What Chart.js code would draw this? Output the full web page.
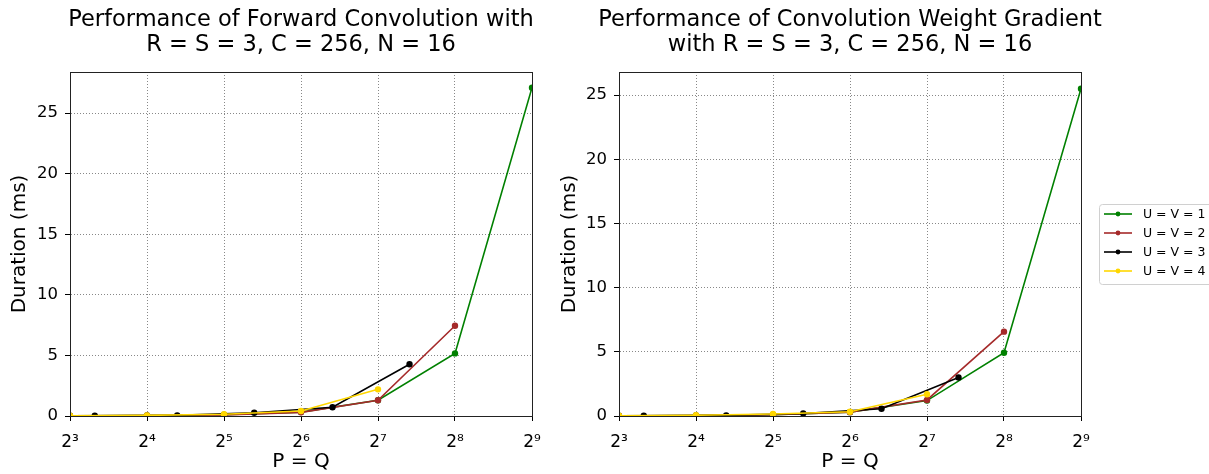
<!DOCTYPE html>
<html>
<head>
<meta charset="utf-8">
<script src="https://cdn.jsdelivr.net/npm/chart.js@4.4.1/dist/chart.umd.min.js"></script>
<style>
  html, body { margin: 0; padding: 0; background: #fff; }
  #wrap { position: relative; width: 1209px; height: 474px; overflow: hidden; }
  #left { position: absolute; left: 0; top: 0; }
  #right { position: absolute; left: 550px; top: 0; }
</style>
</head>
<body>
<div id="wrap">
  <canvas id="left" width="550" height="474"></canvas>
  <canvas id="right" width="659" height="474"></canvas>
</div>
<script>
// x values (P = Q)
const pPow2 = [8, 16, 32, 64, 128, 256, 512];
const pPow2Short = [8, 16, 32, 64, 128, 256];
const pStride3 = [10, 21, 42, 85, 170];
const pStride4 = [8, 16, 32, 64, 128];
const xTicks = [8, 16, 32, 64, 128, 256, 512];
const yTicks = [0, 5, 10, 15, 20, 25];

// forward convolution durations (ms)
const fwdU1 = [0.02, 0.04, 0.1, 0.32, 1.3, 5.17, 27.1];
const fwdU2 = [0.02, 0.04, 0.08, 0.3, 1.3, 7.45];
const fwdU3 = [0.02, 0.05, 0.27, 0.72, 4.27];
const fwdU4 = [0.02, 0.05, 0.15, 0.41, 2.2];

// weight gradient durations (ms)
const wgU1 = [0.02, 0.04, 0.1, 0.3, 1.2, 4.93, 25.5];
const wgU2 = [0.02, 0.04, 0.1, 0.3, 1.25, 6.57];
const wgU3 = [0.02, 0.05, 0.2, 0.57, 3.0];
const wgU4 = [0.02, 0.06, 0.15, 0.33, 1.69];

const seriesLabels = ["U = V = 1", "U = V = 2", "U = V = 3", "U = V = 4"];
const seriesColors = ["#008000", "#a52a2a", "#000000", "#ffd700"];

const FONT = "'DejaVu Sans', sans-serif";
const sup = "⁰¹²³⁴⁵⁶⁷⁸⁹";

function pts(xs, ys) {
  return xs.map((x, i) => ({ x: x, y: ys[i] }));
}

function makeDatasets(u1, u2, u3, u4) {
  let sets = [
    pts(pPow2, u1),
    pts(pPow2Short, u2),
    pts(pStride3, u3),
    pts(pStride4, u4)
  ];
  return sets.map((d, i) => ({
    label: seriesLabels[i],
    data: d,
    borderColor: seriesColors[i],
    backgroundColor: seriesColors[i],
    borderWidth: 1.6,
    pointRadius: 2.4,
    pointHoverRadius: 2.4,
    tension: 0,
    order: 4 - i // first series drawn underneath
  }));
}

// box around plot area + title centred over the plot (like matplotlib)
const framePlugin = {
  id: "frame",
  afterDraw(chart, args, opts) {
    const a = chart.chartArea;
    const ctx = chart.ctx;
    ctx.save();
    ctx.strokeStyle = "#222";
    ctx.lineWidth = 1;
    ctx.strokeRect(a.left + 0.5, a.top + 0.5, a.right - a.left, a.bottom - a.top);
    ctx.fillStyle = "#000";
    ctx.font = "22.5px " + FONT;
    ctx.textAlign = "center";
    ctx.textBaseline = "middle";
    const cx = (a.left + a.right) / 2;
    (opts.lines || []).forEach((t, i) => ctx.fillText(t, cx, 20 + i * 25));
    ctx.restore();
  }
};

// matplotlib-like legend drawn at right of second chart
const legendPlugin = {
  id: "sideLegend",
  afterDraw(chart, args, opts) {
    if (!opts.show) return;
    const ctx = chart.ctx;
    const x0 = opts.x, y0 = opts.y;
    ctx.save();
    ctx.strokeStyle = "#d0d0d0";
    ctx.lineWidth = 1;
    ctx.fillStyle = "rgba(255,255,255,0.8)";
    ctx.beginPath();
    ctx.roundRect(x0 + 0.5, y0 + 0.5, 120, 80, 3);
    ctx.fill();
    ctx.stroke();
    ctx.font = "12.5px " + FONT;
    ctx.textBaseline = "middle";
    seriesLabels.forEach((lab, i) => {
      let y = y0 + 10 + i * 19;
      ctx.strokeStyle = seriesColors[i];
      ctx.lineWidth = 1.6;
      ctx.beginPath();
      ctx.moveTo(x0 + 5, y);
      ctx.lineTo(x0 + 33, y);
      ctx.stroke();
      ctx.fillStyle = seriesColors[i];
      ctx.beginPath();
      ctx.arc(x0 + 19, y, 2.4, 0, Math.PI * 2);
      ctx.fill();
      ctx.fillStyle = "#000";
      ctx.fillText(lab, x0 + 44, y + 1);
    });
    ctx.restore();
  }
};

function makeChart(id, titleLines, datasets, yMax, yWidth, padRight, legend) {
  return new Chart(document.getElementById(id), {
    type: "line",
    data: { datasets: datasets },
    plugins: [framePlugin, legendPlugin],
    options: {
      responsive: false,
      animation: false,
      layout: { padding: { left: 0, right: padRight, top: 72, bottom: 0 } },
      plugins: {
        legend: { display: false },
        tooltip: { enabled: false },
        title: { display: false },
        frame: { lines: titleLines },
        sideLegend: legend
      },
      scales: {
        x: {
          type: "logarithmic",
          min: 8,
          max: 512,
          afterBuildTicks: (scale) => {
            scale.ticks = xTicks.map(v => ({ value: v }));
          },
          afterFit: (scale) => {
            scale.height = 58;
            scale.paddingLeft = 8;
            scale.paddingRight = 8;
          },
          ticks: {
            color: "#000",
            font: { family: FONT, size: 17 },
            padding: 11,
            maxRotation: 0,
            autoSkip: false,
            callback: (v) => "2" + String(Math.round(Math.log2(v))).split("").map(c => sup[+c]).join("")
          },
          grid: {
            color: "#888",
            tickColor: "#000",
            tickLength: 5,
            tickBorderDash: []
          },
          border: { display: true, color: "#222", dash: [1, 2] },
          title: {
            display: true,
            text: "P = Q",
            color: "#000",
            font: { family: FONT, size: 20 },
            padding: { top: 0, bottom: 0 }
          }
        },
        y: {
          type: "linear",
          min: 0,
          max: yMax,
          afterBuildTicks: (scale) => {
            scale.ticks = yTicks.map(v => ({ value: v }));
          },
          afterFit: (scale) => { scale.width = yWidth; },
          ticks: {
            color: "#000",
            font: { family: FONT, size: 16.5 },
            padding: 7
          },
          grid: {
            color: "#888",
            tickColor: "#000",
            tickLength: 5,
            tickBorderDash: []
          },
          border: { display: true, color: "#222", dash: [1, 2] },
          title: {
            display: true,
            text: "Duration (ms)",
            color: "#000",
            font: { family: FONT, size: 20 },
            padding: { top: 8, bottom: 0 }
          }
        }
      }
    }
  });
}

makeChart("left",
  ["Performance of Forward Convolution with", "R = S = 3, C = 256, N = 16"],
  makeDatasets(fwdU1, fwdU2, fwdU3, fwdU4),
  28.4, 70, 18, { show: false });

makeChart("right",
  ["Performance of Convolution Weight Gradient", "with R = S = 3, C = 256, N = 16"],
  makeDatasets(wgU1, wgU2, wgU3, wgU4),
  26.8, 69, 128, { show: true, x: 549, y: 204 });
</script>
</body>
</html>
